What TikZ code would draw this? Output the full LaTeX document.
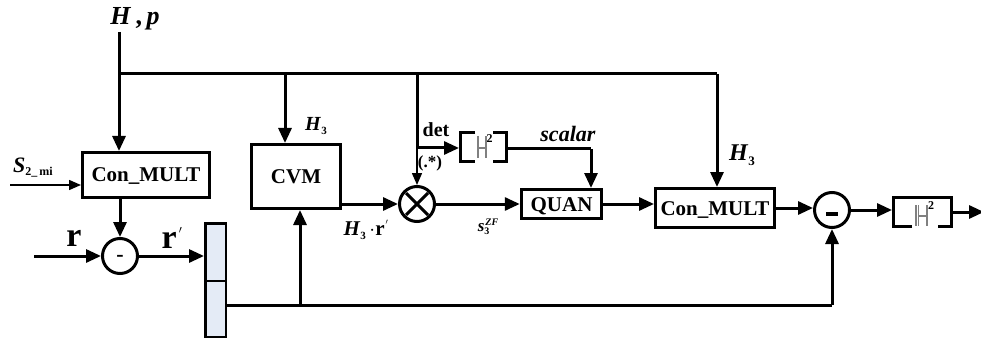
\documentclass[tikz,border=0pt]{standalone}
\usepackage{fontspec}
\setmainfont{Liberation Serif}
\usetikzlibrary{arrows.meta,calc}
\definecolor{splitfill}{RGB}{228,235,246}
\newcommand{\bi}[1]{\textbf{\textit{#1}}}
\newcommand{\hthree}[1]{\bi{H}\raisebox{-0.22em}{\fontsize{#1}{#1}\selectfont\textbf{3}}}
\tikzset{
  x=1pt,y=-1pt,
  wire/.style={line width=3pt},
  arr/.style={wire,-{Triangle[length=15pt,width=13pt]}},
  arrthin/.style={line width=1.5pt,-{Triangle[length=12pt,width=10pt]}},
  blockbox/.style={draw,line width=3pt,inner sep=0pt,outer sep=1.5pt,text height=14pt,text depth=0pt,font=\fontsize{21}{21}\selectfont\bfseries},
  sumcirc/.style={draw,circle,line width=3pt,fill=white,inner sep=0pt,outer sep=1.5pt,minimum size=35pt},
  splitbox/.style={draw,line width=2.5pt,fill=splitfill,inner sep=0pt,outer sep=1.25pt},
  lab/.style={inner sep=0pt},
  normline/.style={line width=1.2pt,draw=gray}
}
\begin{document}
\begin{tikzpicture}
\useasboundingbox (0,0) rectangle (981,339);
% blocks
\node[blockbox,minimum width=127pt,minimum height=45pt] (cm1) at (146,175) {Con\_MULT};
\node[blockbox,minimum width=89pt,minimum height=64pt] (cvm) at (296,176.5) {CVM};
\node[blockbox,minimum width=80.5pt,minimum height=29pt] (quan) at (561.5,204) {QUAN};
\node[blockbox,minimum width=119pt,minimum height=39pt] (cm2) at (715,208) {Con\_MULT};
\node[sumcirc] (m1) at (120,256) {};
\node[sumcirc] (ot) at (417,204) {};
\node[sumcirc] (m2) at (832,210) {};
\node[splitbox,minimum width=20.5pt,minimum height=57.5pt] (sa) at (215.5,252) {};
\node[splitbox,minimum width=20.5pt,minimum height=56pt] (sb) at (215.5,309) {};
% signs
\node[lab,font=\fontsize{22}{22}\selectfont\bfseries] at (120,258) {-};
\node[lab] at (832,214) {\rule{12pt}{3.5pt}};
\draw[line width=3pt] ($(ot)+(-11,-11)$) -- ($(ot)+(11,11)$) ($(ot)+(-11,11)$) -- ($(ot)+(11,-11)$);
% norm boxes
\node[minimum width=49pt,minimum height=32pt,inner sep=0pt,outer sep=0pt] (n1) at (483.5,147) {};
\draw[line width=3pt] (475,132.5) -- (460.5,132.5) -- (460.5,161.5) -- (475,161.5);
\draw[line width=3pt] (493,132.5) -- (506.5,132.5) -- (506.5,161.5) -- (493,161.5);
\draw[normline] (478,136) -- (478,158) (486,136) -- (486,158) (478,148) -- (486,148);
\node[lab,font=\fontsize{12}{12}\selectfont\bfseries] at (489.5,138.5) {2};
\node[minimum width=61pt,minimum height=32pt,inner sep=0pt,outer sep=0pt] (n2) at (922.5,212) {};
\draw[line width=3pt] (912,226.5) -- (893.5,226.5) -- (893.5,197.5) -- (951.5,197.5) -- (951.5,226.5) -- (938,226.5);
\draw[normline] (916,205) -- (916,226) (918.5,205) -- (918.5,226) (927,205) -- (927,226) (918.5,216) -- (927,216);
\node[lab,font=\fontsize{12}{12}\selectfont\bfseries] at (931,205.5) {2};
% free ends and junctions
\coordinate (top) at (119,32);
\coordinate (jh) at (119,74);
\coordinate (jcvm) at (285,74);
\coordinate (jdet) at (417,74);
\coordinate (jr) at (717,74);
\coordinate (bend) at (417,148);
\coordinate (sin) at (10,185);
\coordinate (rin) at (34,256);
\coordinate (cor1) at (591,149);
\coordinate (j2) at (300,305);
\coordinate (cor2) at (832,305);
\coordinate (out) at (984,212);
% connectors
\draw[arr] (top) -- (cm1.north -| top);
\draw[wire] (jh) -- (jr);
\draw[arr] (jr) -- (cm2.north -| jr);
\draw[arr] (jcvm) -- (cvm.north -| jcvm);
\draw[wire] (jdet) -- (bend);
\draw[arr] (bend) -- (n1.west |- bend);
\draw[arrthin] (bend) -- (ot.north);
\draw[arrthin] (sin) -- (cm1.west |- sin);
\draw[arr] (m1.north |- cm1.south) -- (m1.north);
\draw[arr] (rin) -- (m1.west);
\draw[arr] (m1.east) -- (sa.west |- m1);
\draw[wire] (sb.east |- j2) -- (cor2);
\draw[arr] (cor2) -- (m2.south);
\draw[arr] (j2) -- (cvm.south -| j2);
\draw[arr] (cvm.east |- ot) -- (ot.west);
\draw[arr] (ot.east) -- (quan.west |- ot);
\draw[wire] (n1.east |- cor1) -- (cor1);
\draw[arr] (cor1) -- (quan.north -| cor1);
\draw[arr] (quan.east) -- (cm2.west |- quan);
\draw[arr] (cm2.east) -- (m2.west |- cm2);
\draw[arr] (m2.east) -- (n2.west |- m2);
\draw[arr] (n2.east |- out) -- (out);
% labels
\node[lab,font=\fontsize{26}{26}\selectfont] (lhp) at (135,19) {\bi{H}\,\textbf{,}\,\bi{p}};
\node[lab,font=\fontsize{20}{20}\selectfont] (lh1) at (316,126) {\hthree{11}};
\node[lab,font=\fontsize{22}{22}\selectfont,anchor=west] (ls) at (13,168) {\bi{S}\raisebox{-3pt}{\fontsize{12}{12}\selectfont\textbf{2\_\,mi}}};
\node[lab,font=\fontsize{34}{34}\selectfont\bfseries] (lr) at (74,238) {r};
\node[lab,font=\fontsize{34}{34}\selectfont\bfseries] (lrp) at (172,238) {r\hspace{2pt}\raisebox{9pt}{\fontsize{16}{16}\selectfont$'$}};
\node[lab,font=\fontsize{20}{20}\selectfont\bfseries] (ldet) at (436,130) {det};
\node[lab,font=\fontsize{17}{17}\selectfont\bfseries] (lstar) at (430,163) {(.*)};
\node[lab,font=\fontsize{22}{22}\selectfont] (lsc) at (568,134) {\bi{scalar}};
\node[lab,font=\fontsize{21}{21}\selectfont] (lhr) at (366,230) {\hthree{11}\,\textbf{$\cdot$r}\hspace{1pt}\raisebox{7pt}{\fontsize{11}{11}\selectfont$'$}};
\node[lab,font=\fontsize{17}{17}\selectfont] (lzf) at (488,227) {\bi{s}\raisebox{-3pt}{\fontsize{10}{10}\selectfont\textbf{3}}\hspace{-4pt}\raisebox{6pt}{\fontsize{10}{10}\selectfont\bi{ZF}}};
\node[lab,font=\fontsize{24}{24}\selectfont] (lh2) at (742,155) {\hthree{13}};
\end{tikzpicture}
\end{document}
